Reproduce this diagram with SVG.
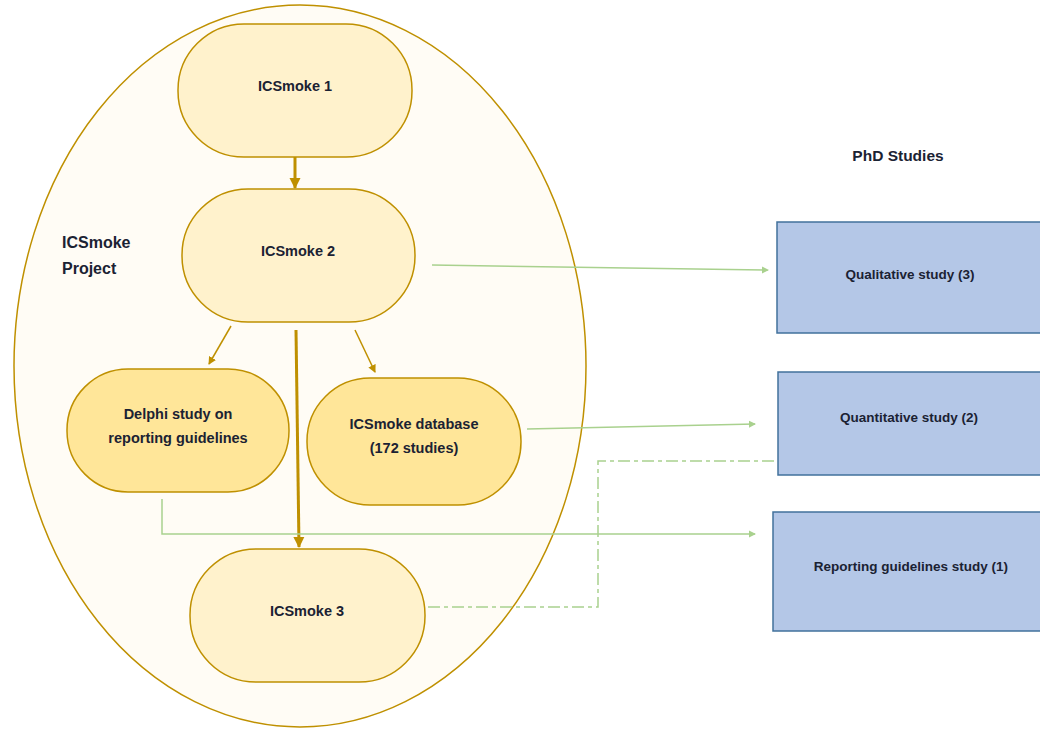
<svg xmlns="http://www.w3.org/2000/svg" width="1040" height="729" viewBox="0 0 1040 729">
<style>
.t{font-family:"Liberation Sans",Arial,sans-serif;font-weight:bold;fill:#1b2233;text-anchor:middle}
.n{font-size:14.5px}
.s{font-size:13.5px}
.node{fill:#FFF2CC;stroke:#BF9000;stroke-width:1.5}
.dark{fill:#FFE699;stroke:#BF9000;stroke-width:1.5}
.box{fill:#B4C7E7;stroke:#41719C;stroke-width:1.5}
.gold{stroke:#BF9000;fill:none}
.green{stroke:#A9D18E;stroke-width:1.5;fill:none}
</style>
<defs>
<marker id="ag" markerWidth="8" markerHeight="8" refX="6" refY="4" orient="auto" markerUnits="userSpaceOnUse"><path d="M0,0.5 L7,4 L0,7.5 Z" fill="#A9D18E"/></marker>
<marker id="ab" markerWidth="12" markerHeight="12" refX="10" refY="6" orient="auto" markerUnits="userSpaceOnUse"><path d="M0,0.5 L11,6 L0,11.5 Z" fill="#BF9000"/></marker>
<marker id="at" markerWidth="9" markerHeight="9" refX="7" refY="4.5" orient="auto" markerUnits="userSpaceOnUse"><path d="M0,0.5 L8,4.5 L0,8.5 Z" fill="#BF9000"/></marker>
</defs>
<rect width="1040" height="729" fill="#ffffff"/>
<g id="project">
<ellipse cx="300" cy="366" rx="286" ry="361" fill="#FFFCF5" stroke="#BF9000" stroke-width="1.5"/>
<text class="t" x="62" y="248" style="font-size:16px;text-anchor:start">ICSmoke</text>
<text class="t" x="62" y="274" style="font-size:16px;text-anchor:start">Project</text>
</g>
<g id="connectors">
<line class="gold" x1="295" y1="157" x2="295" y2="188" stroke-width="3" marker-end="url(#ab)"/>
<line class="gold" x1="296" y1="330" x2="299" y2="547" stroke-width="3" marker-end="url(#ab)"/>
<line class="gold" x1="231" y1="326" x2="209" y2="364" stroke-width="1.5" marker-end="url(#at)"/>
<line class="gold" x1="355" y1="330" x2="375" y2="372" stroke-width="1.5" marker-end="url(#at)"/>
<line class="green" x1="432" y1="265" x2="768" y2="270" marker-end="url(#ag)"/>
<line class="green" x1="527" y1="429" x2="755" y2="424" marker-end="url(#ag)"/>
<polyline class="green" points="162,499 162,534 755,534" marker-end="url(#ag)"/>
<polyline class="green" points="428,607 598,607 598,461 778,461" stroke-dasharray="12,4,4,4"/>
</g>
<g id="icsmoke1"><rect class="node" x="178" y="24" width="234" height="133" rx="66" ry="66"/><text class="t n" x="295" y="91">ICSmoke 1</text></g>
<g id="icsmoke2"><rect class="node" x="182" y="189" width="233" height="133" rx="66" ry="66"/><text class="t n" x="298" y="256">ICSmoke 2</text></g>
<g id="delphi"><rect class="dark" x="67" y="369" width="222" height="123" rx="61" ry="61"/><text class="t n" x="178" y="419">Delphi study on</text><text class="t n" x="178" y="443">reporting guidelines</text></g>
<g id="database"><rect class="dark" x="307" y="378" width="214" height="127" rx="63" ry="63"/><text class="t n" x="414" y="429">ICSmoke database</text><text class="t n" x="414" y="453">(172 studies)</text></g>
<g id="icsmoke3"><rect class="node" x="190" y="549" width="235" height="133" rx="66" ry="66"/><text class="t n" x="307" y="616">ICSmoke 3</text></g>
<g id="phd"><text class="t" x="898" y="161" style="font-size:15.5px">PhD Studies</text></g>
<g id="qualitative"><rect class="box" x="777" y="222" width="270" height="111"/><text class="t s" x="910" y="279">Qualitative study (3)</text></g>
<g id="quantitative"><rect class="box" x="778" y="372" width="270" height="103"/><text class="t s" x="909" y="422">Quantitative study (2)</text></g>
<g id="reporting"><rect class="box" x="773" y="512" width="274" height="119"/><text class="t s" x="911" y="571">Reporting guidelines study (1)</text></g>
</svg>
